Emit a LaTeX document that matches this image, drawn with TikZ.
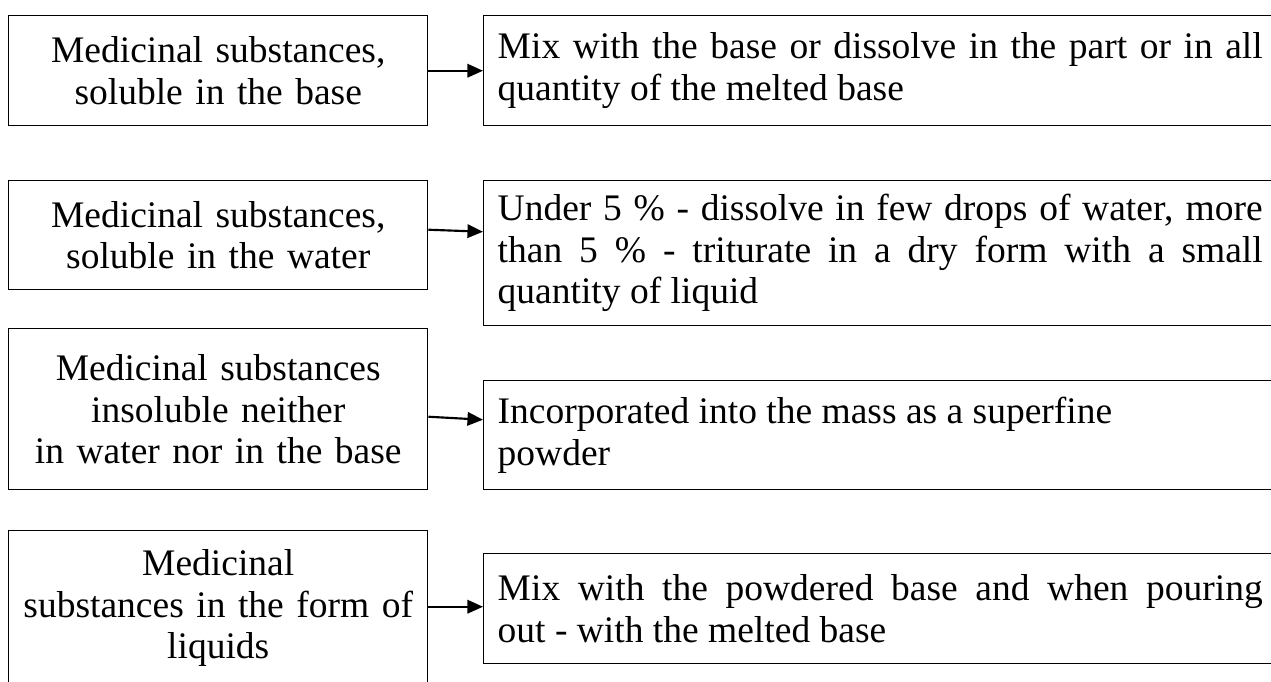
\documentclass[tikz,border=0pt]{standalone}
\usepackage{fontspec}
\setmainfont{Liberation Serif}
\usetikzlibrary{arrows.meta,positioning}
\newdimen\pxu \pxu=0.3733pt

\begin{document}
\begin{tikzpicture}[x=0.3733pt,y=0.3733pt,>={Triangle[length=5.8pt,width=5pt]}]
\tikzstyle{cause node}=[rectangle,draw,line width=0.55pt,anchor=north west,inner xsep=5\pxu,inner ysep=2\pxu,text width=409\pxu,align=center,font=\fontsize{14pt}{15.5pt}\selectfont]
\tikzstyle{action node}=[rectangle,draw,line width=0.55pt,anchor=north west,inner xsep=14\pxu,inner ysep=2\pxu,text width=765\pxu,align=justify,font=\fontsize{14pt}{15.5pt}\selectfont]

\tikzset{
	link/.style={->,line width=0.8pt}
}
      \useasboundingbox (0,0) rectangle (1271,-682);

      \node[cause node,minimum height=110\pxu] (L1) at (8,-15) {Medicinal substances,\\ soluble in the base};
      \node[action node,minimum height=110\pxu] (R1) at (483,-15) {Mix with the base or dissolve in the part or in all\linebreak quantity of the melted base};
      \node[cause node,minimum height=109\pxu] (L2) at (8,-180) {Medicinal substances,\\ soluble in the water};
      \node[action node,minimum height=145\pxu] (R2) at (483,-180) {Under 5~\% - dissolve in few drops of water, more\linebreak than 5~\% - triturate in a dry form with a small\linebreak quantity of liquid};
      \node[cause node,minimum height=161\pxu] (L3) at (8,-328) {Medicinal substances\\ insoluble neither\\ in water nor in the base};
      \node[action node,minimum height=109\pxu] (R3) at (483,-380) {Incorporated into the mass as a superfine\\ powder};
      \node[cause node,minimum height=155\pxu] (L4) at (8,-530) {Medicinal\\ substances in the form of\\ liquids};
      \node[action node,minimum height=110\pxu] (R4) at (483,-553) {Mix with the powdered base and when pouring\linebreak out - with the melted base};

    \draw[link] (L1) -- (R1);
    \draw[link] ([yshift=5.5\pxu]L2.east) -- ([yshift=21.5\pxu]R2.west);
    \draw[link] ([yshift=-7.5\pxu]L3.east) -- ([yshift=15.5\pxu]R3.west);
    \draw[link] ([yshift=1.5\pxu]L4.east) -- ([yshift=2\pxu]R4.west);
\end{tikzpicture}
\end{document}
